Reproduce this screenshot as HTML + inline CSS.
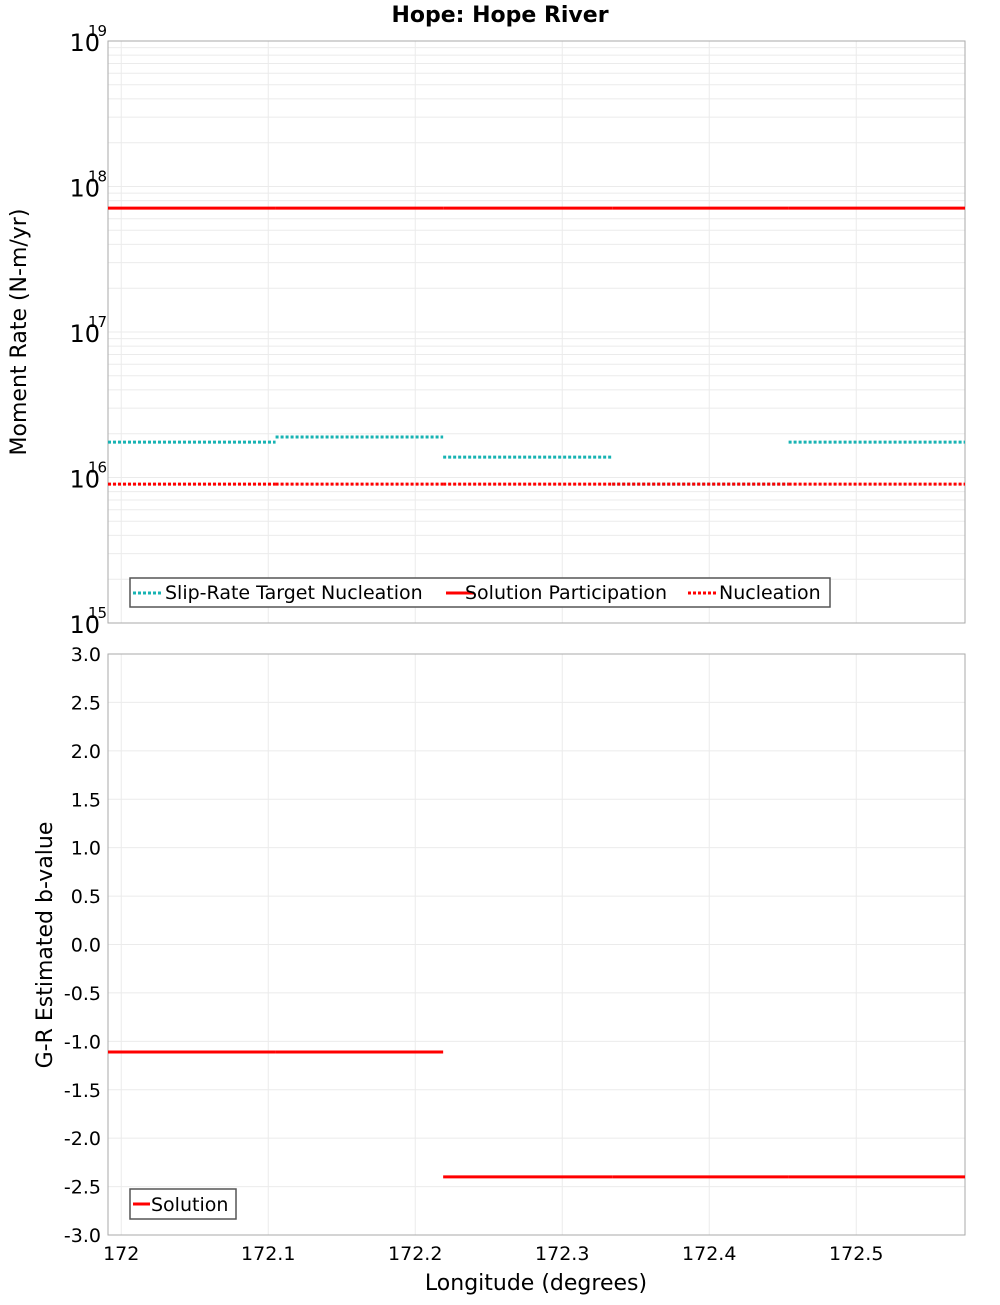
<!DOCTYPE html>
<html><head><meta charset="utf-8"><style>
body{margin:0;background:#fff;}
svg text{font-family:"DejaVu Sans","Liberation Sans",sans-serif;}
</style></head><body>
<svg id="chart" width="1000" height="1300" xmlns="http://www.w3.org/2000/svg">
<text x="500" y="22" text-anchor="middle" font-size="22" font-weight="bold">Hope: Hope River</text>
<g id="gtop"></g><g id="gbot"></g>
</svg>
<script>
const segEdges=[171.991,172.105,172.219,172.334,172.454,172.574];
const participation=[7.1e17,7.1e17,7.1e17,7.1e17,7.1e17];
const slipTarget=[1.75e16,1.9e16,1.38e16,9.0e15,1.75e16];
const nucleation=[9.0e15,9.0e15,9.0e15,9.0e15,9.0e15];
const bValues=[-1.11,-1.11,-2.40,-2.40,-2.40];
const xTicks=[172,172.1,172.2,172.3,172.4,172.5];
const xTickLabels=["172","172.1","172.2","172.3","172.4","172.5"];
const yExps=[15,16,17,18,19];
const bTicks=[-3,-2.5,-2,-1.5,-1,-0.5,0,0.5,1,1.5,2,2.5,3];

const NS="http://www.w3.org/2000/svg";
const L=108,R=965;
const xMin=171.991,xMax=172.574;
const X=v=>L+(v-xMin)/(xMax-xMin)*(R-L);
const T1=41,B1=623,T2=654,B2=1235;
const Ylog=v=>B1-(Math.log10(v)-15)/4*(B1-T1);
const Yb=v=>B2-(v+3)/6*(B2-T2);
function mk(parent,tag,attrs,txt){const e=document.createElementNS(NS,tag);for(const k in attrs)e.setAttribute(k,attrs[k]);if(txt!==undefined)e.textContent=txt;parent.appendChild(e);return e;}
const gTop=document.getElementById('gtop'),gBot=document.getElementById('gbot');

for(let e=15;e<19;e++)for(let m=1;m<10;m++){const y=Ylog(m*Math.pow(10,e));
 const g=mk(gTop,'line',{x1:L,x2:R,y1:y,y2:y,stroke:'#ebebeb','stroke-width':1});
 
 }
xTicks.forEach(t=>{[[gTop,T1,B1],[gBot,T2,B2]].forEach(([p,a,b])=>{
 const g=mk(p,'line',{x1:X(t),x2:X(t),y1:a,y2:b,stroke:'#ebebeb','stroke-width':1});
 
 });});
bTicks.forEach(t=>{const g=mk(gBot,'line',{x1:L,x2:R,y1:Yb(t),y2:Yb(t),stroke:'#ebebeb','stroke-width':1});
 
 });

[[gTop,T1,B1],[gBot,T2,B2]].forEach(([p,a,b])=>{const f=mk(p,'rect',{x:L,y:a,width:R-L,height:b-a,fill:'none',stroke:'#aaa','stroke-width':1});
 
 });

yExps.forEach(e=>{const y=Ylog(Math.pow(10,e));
 const t=mk(gTop,'text',{x:100,y:y+10,'text-anchor':'end','font-size':24},'10');
 
 
 const s=mk(gTop,'text',{x:88,y:y-5,'font-size':15},String(e));
 
 });
const yt=mk(gTop,'text',{x:26,y:332,'text-anchor':'middle','font-size':22,transform:'rotate(-90 26 332)'},'Moment Rate (N-m/yr)');



function steps(p,vals,Y,color,dash,name){vals.forEach((v,i)=>{
 const a={x1:X(segEdges[i]),x2:X(segEdges[i+1]),y1:Y(v),y2:Y(v),stroke:color,'stroke-width':3};
 if(dash)a['stroke-dasharray']=dash;
 const l=mk(p,'line',a);
 
 });}
steps(gTop,slipTarget,Ylog,'#17b3b3','3,2','slip-rate-target');
steps(gTop,nucleation,Ylog,'#ff0000','3,2','nucleation');
steps(gTop,participation,Ylog,'#ff0000',null,'solution-participation');

const lg=mk(gTop,'g',{});


mk(lg,'rect',{x:130,y:578,width:700,height:29,fill:'#fff',stroke:'#555','stroke-width':1.5});
[[133,'#17b3b3','3,2','Slip-Rate Target Nucleation',165],[446,'#ff0000',null,'Solution Participation',465],[688,'#ff0000','3,2','Nucleation',719]].forEach(([x,c,d,lab,tx])=>{
 const a={x1:x,x2:x+28,y1:593,y2:593,stroke:c,'stroke-width':3};if(d)a['stroke-dasharray']=d;
 const l=mk(lg,'line',a);
 
 
 const t=mk(lg,'text',{x:tx,y:599,'font-size':19},lab);
 
 });

bTicks.forEach(t=>{const e=mk(gBot,'text',{x:101,y:Yb(t)+7,'text-anchor':'end','font-size':19},t.toFixed(1));
 
 });
xTicks.forEach((t,i)=>{const e=mk(gBot,'text',{x:X(t),y:1260,'text-anchor':'middle','font-size':19},xTickLabels[i]);
 
 });
const bt=mk(gBot,'text',{x:52,y:945,'text-anchor':'middle','font-size':22,transform:'rotate(-90 52 945)'},'G-R Estimated b-value');


const xt=mk(gBot,'text',{x:536,y:1290,'text-anchor':'middle','font-size':22},'Longitude (degrees)');


steps(gBot,bValues,Yb,'#ff0000',null,'b-value-solution');
const lg2=mk(gBot,'g',{});


mk(lg2,'rect',{x:130,y:1189,width:106,height:30,fill:'#fff',stroke:'#555','stroke-width':1.5});
const sl=mk(lg2,'line',{x1:133,x2:150,y1:1204,y2:1204,stroke:'#ff0000','stroke-width':3});


const st=mk(lg2,'text',{x:151,y:1211,'font-size':19},'Solution');


</script>
</body></html>
